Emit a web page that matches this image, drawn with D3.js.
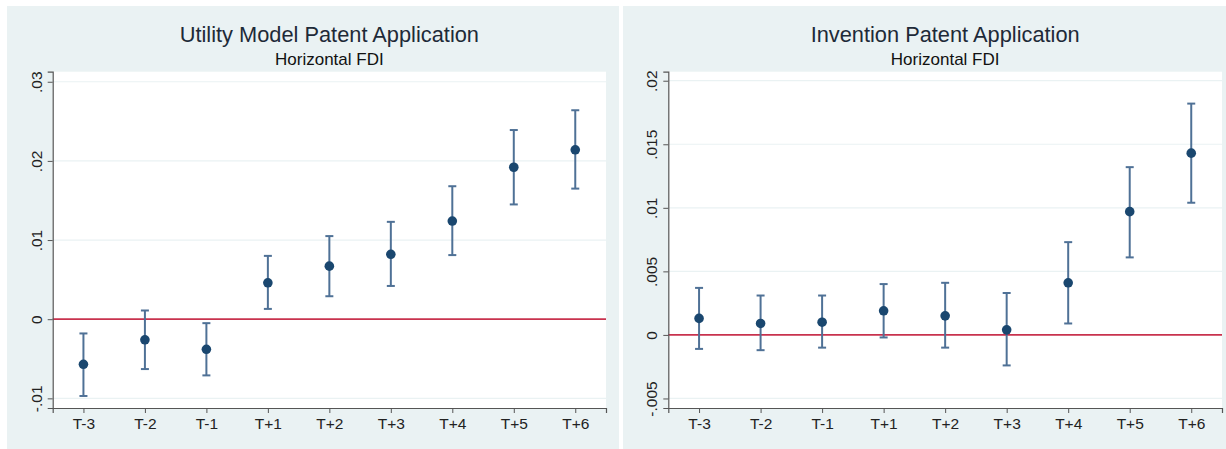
<!DOCTYPE html>
<html>
<head>
<meta charset="utf-8">
<script src="https://cdn.jsdelivr.net/npm/d3@7"></script>
<style>
  html, body { margin: 0; padding: 0; background: #ffffff; }
  svg { display: block; font-family: "Liberation Sans", Arial, sans-serif; }
</style>
</head>
<body>
<div id="chart"></div>
<script>
// event-study periods (shared x categories)
const periods = ["T-3", "T-2", "T-1", "T+1", "T+2", "T+3", "T+4", "T+5", "T+6"];

// Utility model patent application — coefficient and 95% CI
const utilityCoef = [-0.0057, -0.0026, -0.0038, 0.0046, 0.0067, 0.0082, 0.0124, 0.0192, 0.0214];
const utilityLow  = [-0.0097, -0.0063, -0.0071, 0.0013, 0.0029, 0.0042, 0.0081, 0.0145, 0.0165];
const utilityHigh = [-0.0018,  0.0011, -0.0005, 0.0080, 0.0105, 0.0123, 0.0168, 0.0239, 0.0264];
const utilityTicks  = [-0.01, 0, 0.01, 0.02, 0.03];
const utilityLabels = ["-.01", "0", ".01", ".02", ".03"];

// Invention patent application — coefficient and 95% CI
const inventionCoef = [0.0013, 0.0009, 0.0010, 0.0019, 0.0015, 0.0004, 0.0041, 0.0097, 0.0143];
const inventionLow  = [-0.0011, -0.0012, -0.0010, -0.0002, -0.0010, -0.0024, 0.0009, 0.0061, 0.0104];
const inventionHigh = [0.0037, 0.0031, 0.0031, 0.0040, 0.0041, 0.0033, 0.0073, 0.0132, 0.0182];
const inventionTicks  = [-0.005, 0, 0.005, 0.01, 0.015, 0.02];
const inventionLabels = ["-.005", "0", ".005", ".01", ".015", ".02"];

const W = 1226, H = 449;
const BG = "#eaf2f3", NAVY = "#1a476f", CAP = "#4f7196", ZERO = "#c8324e";

const svg = d3.select("#chart").append("svg")
  .attr("width", W).attr("height", H);

function drawPanel(p) {
  const g = svg.append("g");

  // graph region
  g.append("rect")
    .attr("x", p.bx).attr("y", 6)
    .attr("width", p.bw).attr("height", H - 6)
    .attr("fill", BG);

  // plot region
  g.append("rect")
    .attr("x", p.left).attr("y", p.top)
    .attr("width", p.right - p.left).attr("height", p.bottom - p.top)
    .attr("fill", "#ffffff");

  const x = d3.scaleLinear().domain([0.5, 9.5]).range([p.left, p.right]);
  const y = d3.scaleLinear().domain(p.yDomain).range([p.bottom, p.top]);

  // gridlines
  g.selectAll(".grid")
    .data(p.ticks.filter(t => t !== 0))
    .join("line")
      .attr("x1", p.left).attr("x2", p.right)
      .attr("y1", d => y(d)).attr("y2", d => y(d))
      .attr("stroke", BG).attr("stroke-width", 1.2);

  // zero reference line
  g.append("line")
    .attr("x1", p.left).attr("x2", p.right)
    .attr("y1", y(0)).attr("y2", y(0))
    .attr("stroke", ZERO).attr("stroke-width", 1.7);

  // axes
  const yAxis = g.append("g")
    .attr("transform", `translate(${p.left},0)`)
    .call(d3.axisLeft(y).tickValues(p.ticks)
      .tickFormat((d, i) => p.labels[i]).tickSize(5));
  // Stata-style vertical tick labels
  yAxis.selectAll(".tick text")
    .attr("x", 0).attr("y", 0).attr("dy", null)
    .attr("text-anchor", "middle")
    .attr("transform", "translate(-11,0) rotate(-90)");

  g.append("g")
    .attr("transform", `translate(0,${p.bottom})`)
    .call(d3.axisBottom(x).tickValues(d3.range(1, 10))
      .tickFormat(d => periods[d - 1]).tickSize(5).tickPadding(5));

  g.selectAll(".domain").attr("stroke", "#555").attr("stroke-width", 1.2);
  g.selectAll(".tick line").attr("stroke", "#555");
  g.selectAll(".tick text").attr("fill", "#222").style("font-size", "15.5px");

  // confidence intervals
  const ci = periods.map((k, i) => ({ i: i + 1, c: p.coef[i], lo: p.low[i], hi: p.high[i] }));
  const bars = g.selectAll(".ci").data(ci).join("g")
    .attr("stroke", CAP).attr("stroke-width", 2);
  bars.append("line")
    .attr("x1", d => x(d.i)).attr("x2", d => x(d.i))
    .attr("y1", d => y(d.lo)).attr("y2", d => y(d.hi));
  bars.append("line")
    .attr("x1", d => x(d.i) - 4).attr("x2", d => x(d.i) + 4)
    .attr("y1", d => y(d.lo)).attr("y2", d => y(d.lo));
  bars.append("line")
    .attr("x1", d => x(d.i) - 4).attr("x2", d => x(d.i) + 4)
    .attr("y1", d => y(d.hi)).attr("y2", d => y(d.hi));

  // point estimates
  g.selectAll(".pt").data(ci).join("circle")
    .attr("cx", d => x(d.i)).attr("cy", d => y(d.c))
    .attr("r", 4.8).attr("fill", NAVY);

  // titles
  const cx = (p.left + p.right) / 2;
  g.append("text")
    .attr("x", cx).attr("y", 42)
    .attr("text-anchor", "middle")
    .style("font-size", "21.8px").attr("fill", "#1e2a38")
    .text(p.title);
  g.append("text")
    .attr("x", cx).attr("y", 65)
    .attr("text-anchor", "middle")
    .style("font-size", "17px").attr("fill", "#111")
    .text("Horizontal FDI");
}

drawPanel({
  bx: 7, bw: 612,
  left: 52.7, right: 606, top: 71.7, bottom: 408,
  yDomain: [-0.01122, 0.03127],
  ticks: utilityTicks, labels: utilityLabels,
  coef: utilityCoef, low: utilityLow, high: utilityHigh,
  title: "Utility Model Patent Application"
});

drawPanel({
  bx: 623, bw: 603,
  left: 668.3, right: 1222, top: 71.7, bottom: 408,
  yDomain: [-0.00575, 0.02071],
  ticks: inventionTicks, labels: inventionLabels,
  coef: inventionCoef, low: inventionLow, high: inventionHigh,
  title: "Invention Patent Application"
});
</script>
</body>
</html>
